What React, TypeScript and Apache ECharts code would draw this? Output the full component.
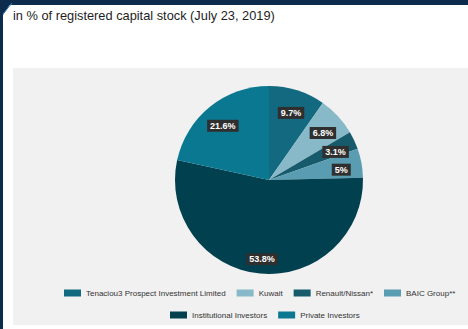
import React, { useEffect, useRef } from "react";
import * as echarts from "echarts";

const title = "in % of registered capital stock (July 23, 2019)";
const categories = [
  "Tenaciou3 Prospect Investment Limited",
  "Kuwait",
  "Renault/Nissan*",
  "BAIC Group**",
  "Institutional Investors",
  "Private Investors",
];
const values = [9.7, 6.8, 3.1, 5, 53.8, 21.6];
const colors = ["#136a80", "#87b9c9", "#175a6c", "#5a9db2", "#01404f", "#0b7891"];

export default function App() {
  const ref = useRef<HTMLDivElement>(null);
  useEffect(() => {
    const chart = echarts.init(ref.current!, null, { renderer: "svg" });
    const R = 94;
    const data = categories.map((name, i) => ({
      name,
      value: values[i],
      itemStyle: { color: colors[i] },
    }));
    const labelData = categories.map((name, i) => ({
      name,
      value: values[i],
      label: i === 4 ? { offset: [0, 6] } : undefined,
    }));
    const legendText = { fontSize: 8, color: "#333", fontFamily: "Liberation Sans" };
    const legendBase = {
      orient: "horizontal",
      itemWidth: 17,
      itemHeight: 7,
      itemGap: 11,
      padding: 0,
      icon: "rect",
      textStyle: legendText,
    };
    chart.setOption({
      animation: false,
      backgroundColor: "#ffffff",
      color: colors,
      graphic: [
        { type: "rect", shape: { x: 0, y: 0, width: 468, height: 5 }, style: { fill: "#0d2b4c" }, z: 0 },
        { type: "rect", shape: { x: 0, y: 0, width: 3, height: 329 }, style: { fill: "#0d2b4c" }, z: 0 },
        { type: "polygon", shape: { points: [[0, 0], [13, 0], [3, 15], [0, 18]] }, style: { fill: "#0d2b4c" }, z: 0 },
        { type: "line", shape: { x1: 3, y1: 14, x2: 12, y2: 3 }, style: { stroke: "#3a86c0", lineWidth: 1 }, z: 1 },
        { type: "rect", shape: { x: 13, y: 68, width: 455, height: 257 }, style: { fill: "#f1f1f1" }, z: 0 },
        {
          type: "text",
          x: 13,
          y: 9,
          style: { text: title, fontSize: 12.8, fontFamily: "Liberation Sans, Arial", fill: "#1e1e1e" },
          z: 2,
        },
      ],
      legend: [
        { ...legendBase, data: categories.slice(0, 4), left: 64, top: 289, width: 420 },
        { ...legendBase, data: categories.slice(4), left: 170, top: 311, width: 290 },
      ],
      series: [
        {
          type: "pie",
          center: [269, 180],
          radius: [0, R],
          startAngle: 90,
          clockwise: true,
          label: { show: false },
          labelLine: { show: false },
          itemStyle: { borderWidth: 0 },
          data,
        },
        {
          type: "pie",
          center: [269, 180],
          radius: [R * 0.5, R],
          startAngle: 90,
          clockwise: true,
          silent: true,
          legendHoverLink: false,
          itemStyle: { color: "transparent", borderWidth: 0 },
          label: {
            show: true,
            position: "inside",
            formatter: "{c}%",
            color: "#fff",
            fontSize: 9,
            fontWeight: "bold",
            fontFamily: "Liberation Sans",
            backgroundColor: "#2f2f2f",
            padding: [2, 3, 1, 3],
            offset: [0, 3],
          },
          labelLine: { show: false },
          data: labelData,
        },
      ],
    });
    return () => chart.dispose();
  }, []);
  return (
    <div
      ref={ref}
      style={{ width: 468, height: 329, position: "fixed", left: 0, top: 0 }}
    />
  );
}
